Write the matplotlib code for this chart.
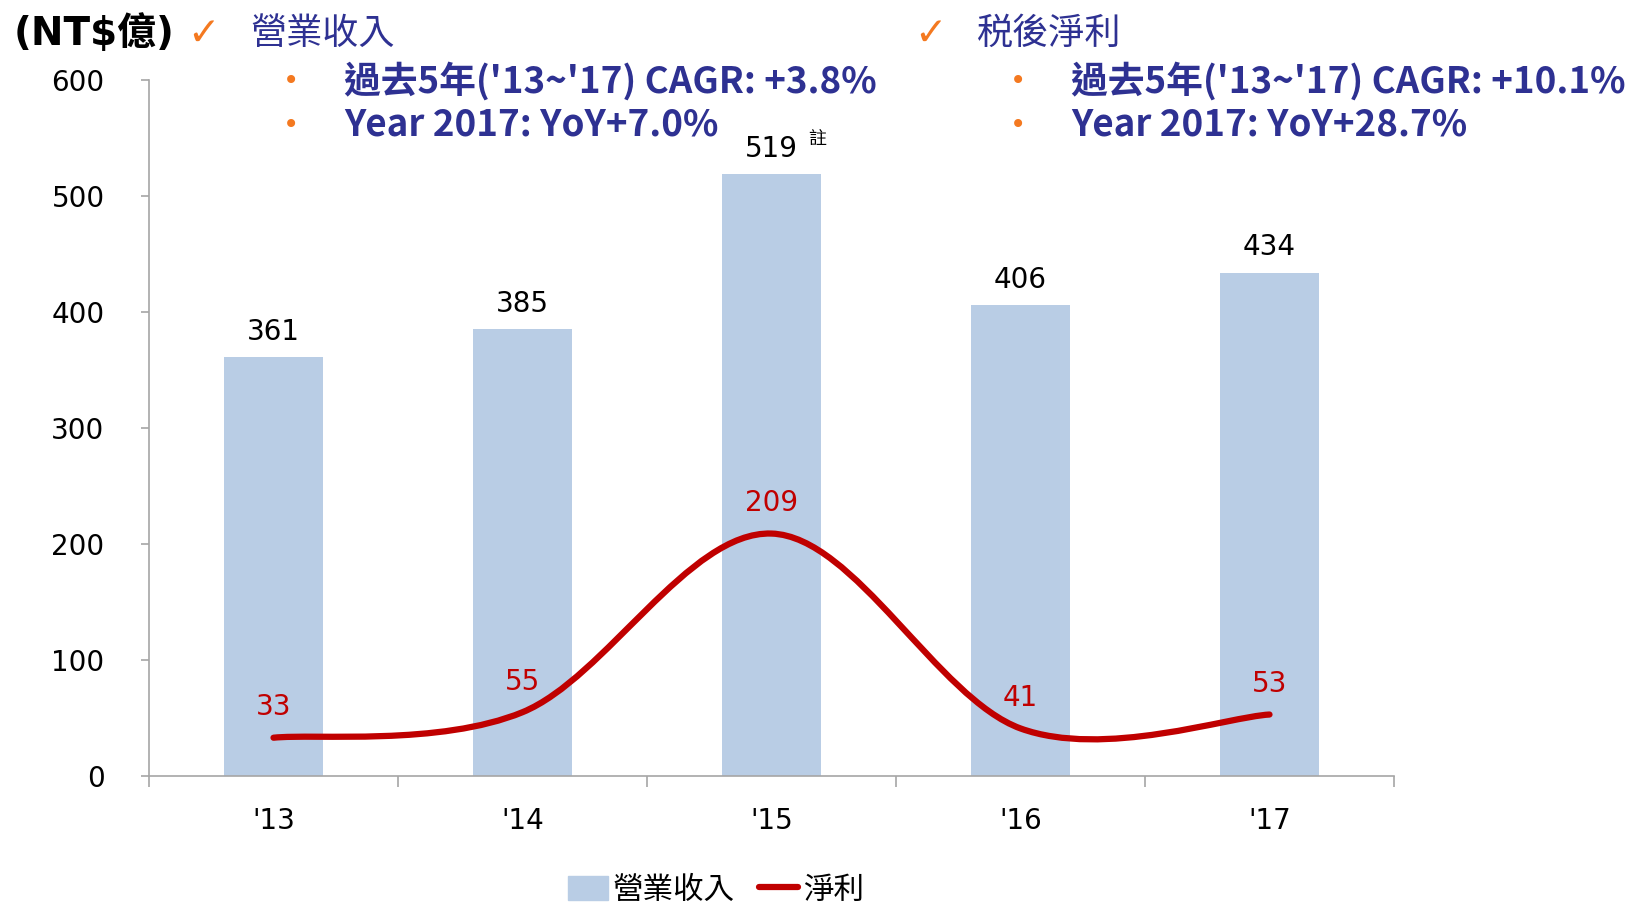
import matplotlib
matplotlib.use("Agg")
import matplotlib.pyplot as plt
from matplotlib.path import Path
import matplotlib.patches as patches
from matplotlib.lines import Line2D

plt.rcParams['font.family'] = ['DejaVu Sans', 'Noto Sans CJK TC']

years = ["'13", "'14", "'15", "'16", "'17"]
revenue = [361, 385, 519, 406, 434]
net_income = [33, 55, 209, 41, 53]
header_rev = ["過去5年('13~'17) CAGR: +3.8%", "Year 2017: YoY+7.0%"]
header_ni = ["過去5年('13~'17) CAGR: +10.1%", "Year 2017: YoY+28.7%"]

BAR = '#B9CDE5'
RED = '#C00000'
NAVY = '#2E3192'
ORANGE = '#F47920'
GRAY = '#A6A6A6'
CJK = ['Noto Sans CJK TC', 'DejaVu Sans']

W, H = 1634, 911
fig = plt.figure(figsize=(W / 100, H / 100), dpi=100)
ax = fig.add_axes([149 / W, 135 / H, (1394 - 149) / W, (776 - 80) / H])


def px(x, y):
    return x / W, 1 - y / H


x = list(range(len(years)))
ax.bar(x, revenue, width=0.4, color=BAR, zorder=1)
for xi, v in zip(x, revenue):
    ax.annotate(str(v), (xi, v), xytext=(0, 8), textcoords='offset points',
                ha='center', va='bottom', fontsize=20)
ax.annotate('註', (2, 519), xytext=(33, 25), textcoords='offset points',
            ha='center', va='center', fontsize=13, family=CJK)

# smoothed line like Excel's (cubic bezier through the points)
pts = list(zip(x, net_income))
ext = [pts[0]] + pts + [pts[-1]]
verts = [pts[0]]
codes = [Path.MOVETO]
for i in range(1, len(ext) - 2):
    p0, p1, p2, p3 = ext[i - 1], ext[i], ext[i + 1], ext[i + 2]
    c1 = (p1[0] + (p2[0] - p0[0]) / 6, p1[1] + (p2[1] - p0[1]) / 6)
    c2 = (p2[0] - (p3[0] - p1[0]) / 6, p2[1] - (p3[1] - p1[1]) / 6)
    verts += [c1, c2, p2]
    codes += [Path.CURVE4] * 3
ax.add_patch(patches.PathPatch(Path(verts, codes), fill=False, edgecolor=RED,
                               lw=4.5, capstyle='round', joinstyle='round', zorder=3))
for xi, v in zip(x, net_income):
    ax.annotate(str(v), (xi, v), xytext=(0, 12), textcoords='offset points',
                ha='center', va='bottom', fontsize=20, color=RED)

ax.set_xlim(-0.5, len(years) - 0.5)
ax.set_ylim(0, 600)
ax.set_yticks(range(0, 601, 100))
ax.set_xticks(x)
ax.set_xticklabels(years, fontsize=20)
ax.set_xticks([i - 0.5 for i in range(len(years) + 1)], minor=True)
ax.tick_params(axis='x', which='major', length=0, pad=22)
ax.tick_params(axis='x', which='minor', length=8, color=GRAY, width=1.2)
ax.tick_params(axis='y', length=6, color=GRAY, width=1.2, labelsize=20, pad=26)
for s in ['top', 'right']:
    ax.spines[s].set_visible(False)
for s in ['left', 'bottom']:
    ax.spines[s].set_color(GRAY)
    ax.spines[s].set_linewidth(1.2)

# header
fig.text(*px(14, 34), '(NT$億)', fontsize=28, fontweight='bold', va='center', ha='left')
for cx, title, lines in [(203, '營業收入', header_rev), (930, '税後淨利', header_ni)]:
    fig.text(*px(cx, 34), '✓', fontsize=28, color=ORANGE, va='center', ha='center')
    fig.text(*px(cx + 47, 34), title, fontsize=26, color=NAVY, va='center', ha='left', family=CJK)
    for j, line in enumerate(lines):
        y = 81 + 44 * j
        fig.text(*px(cx + 88, y), '•', fontsize=20, color=ORANGE, va='center', ha='center')
        fig.text(*px(cx + 141, y), line, fontsize=26.5, color=NAVY, fontweight='bold',
                 va='center', ha='left', family=CJK)

handles = [patches.Patch(color=BAR), Line2D([], [], color=RED, lw=4.5, solid_capstyle='round')]
fig.legend(handles, ['營業收入', '淨利'], loc='center', bbox_to_anchor=px(716, 890),
           ncol=2, frameon=False, prop={'family': CJK, 'size': 22},
           handlelength=1.3, handleheight=0.8, handletextpad=0.15, columnspacing=0.8)

fig.savefig('out.png', dpi=100)
